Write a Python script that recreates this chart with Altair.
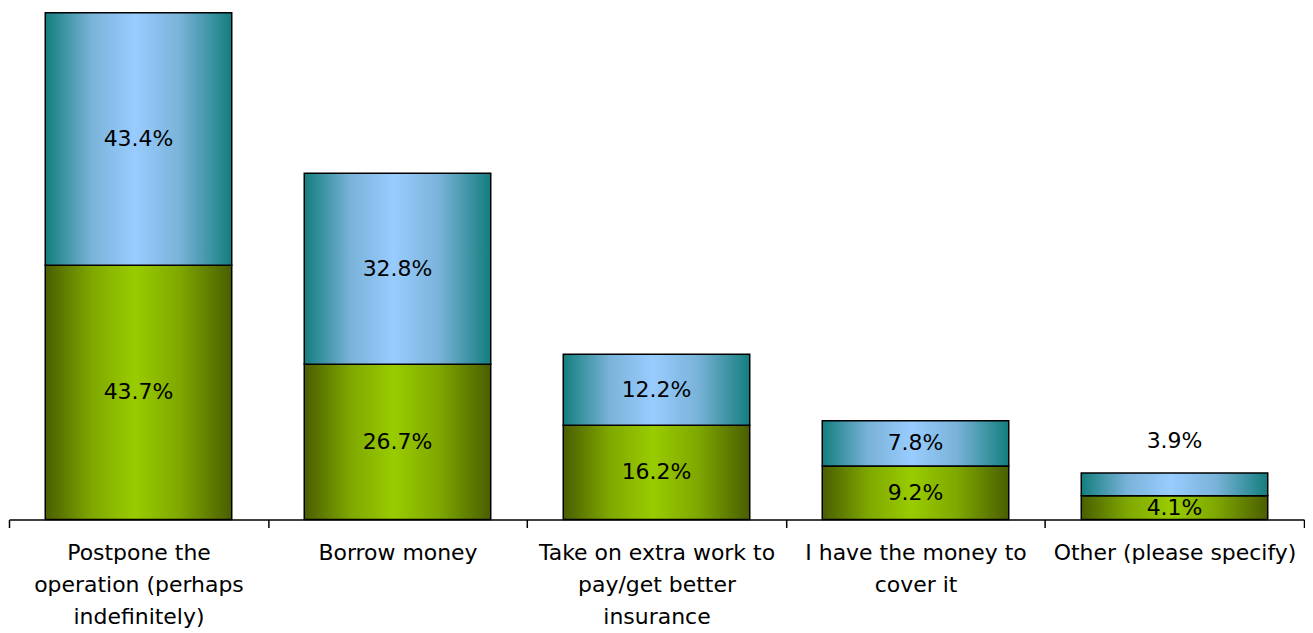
import altair as alt
import pandas as pd

categories = [
    "Postpone the\noperation (perhaps\nindefinitely)",
    "Borrow money",
    "Take on extra work to\npay/get better\ninsurance",
    "I have the money to\ncover it",
    "Other (please specify)",
]
green_values = [43.7, 26.7, 16.2, 9.2, 4.1]
blue_values = [43.4, 32.8, 12.2, 7.8, 3.9]

rows = []
for i, c in enumerate(categories):
    g, b = green_values[i], blue_values[i]
    rows.append({"cat": c, "series": "green", "value": g, "lo": 0.0, "hi": g})
    rows.append({"cat": c, "series": "blue", "value": b, "lo": g, "hi": g + b})
df = pd.DataFrame(rows)
df["mid"] = (df["lo"] + df["hi"]) / 2
df["label"] = df["value"].map(lambda v: f"{v:.1f}%")
df["small"] = (df["series"] == "blue") & (df["value"] < 5)

green_grad = alt.Gradient(
    gradient="linear", x1=0, x2=1, y1=0, y2=0,
    stops=[
        alt.GradientStop(color="#4a5e00", offset=0),
        alt.GradientStop(color="#7fa800", offset=0.25),
        alt.GradientStop(color="#99cc00", offset=0.48),
        alt.GradientStop(color="#7fa800", offset=0.72),
        alt.GradientStop(color="#4a5e00", offset=1),
    ],
)
blue_grad = alt.Gradient(
    gradient="linear", x1=0, x2=1, y1=0, y2=0,
    stops=[
        alt.GradientStop(color="#137e7e", offset=0),
        alt.GradientStop(color="#7ab3d9", offset=0.25),
        alt.GradientStop(color="#99ccff", offset=0.48),
        alt.GradientStop(color="#7ab3d9", offset=0.72),
        alt.GradientStop(color="#137e7e", offset=1),
    ],
)

FONT = "DejaVu Sans"
FS = 22

xenc = alt.X(
    "cat:N",
    sort=categories,
    scale=alt.Scale(paddingInner=0, paddingOuter=0),
    axis=alt.Axis(
        title=None,
        labelAngle=0,
        labelFont=FONT,
        labelFontSize=FS,
        labelColor="black",
        labelLineHeight=32,
        labelPadding=15,
        labelLimit=400,
        labelExpr="datum.value ? split(datum.value, '\\n') : ''",
        domainColor="black",
        domainWidth=1.5,
        tickColor="black",
        tickWidth=1.5,
        tickSize=8,
        tickBand="extent",
        labelBaseline="top",
    ),
)
yscale = alt.Scale(domain=[0, 87.8], nice=False, zero=True)

base = alt.Chart(df)
bw = alt.RelativeBandSize(0.72)

green_bars = base.transform_filter(alt.datum.series == "green").mark_bar(
    fill=green_grad, stroke="black", strokeWidth=1.5, width=bw
).encode(x=xenc, y=alt.Y("lo:Q", scale=yscale, axis=None), y2="hi:Q")

blue_bars = base.transform_filter(alt.datum.series == "blue").mark_bar(
    fill=blue_grad, stroke="black", strokeWidth=1.5, width=bw
).encode(x=xenc, y=alt.Y("lo:Q", scale=yscale, axis=None), y2="hi:Q")

inner_labels = base.transform_filter(alt.datum.small == False).mark_text(
    font=FONT, fontSize=FS, color="black", baseline="middle"
).encode(x=xenc, y=alt.Y("mid:Q", scale=yscale, axis=None), text="label:N")

outer_labels = base.transform_filter(alt.datum.small == True).mark_text(
    font=FONT, fontSize=FS, color="black", baseline="middle", dy=-32
).encode(x=xenc, y=alt.Y("hi:Q", scale=yscale, axis=None), text="label:N")

chart = alt.layer(green_bars, blue_bars, inner_labels, outer_labels).properties(
    width=1298, height=512, padding={"left": 0, "top": 0, "right": 0, "bottom": 0},
    background="white",
).configure_view(stroke=None)

chart.save("out.html", embed_options={"renderer": "svg", "actions": False})
